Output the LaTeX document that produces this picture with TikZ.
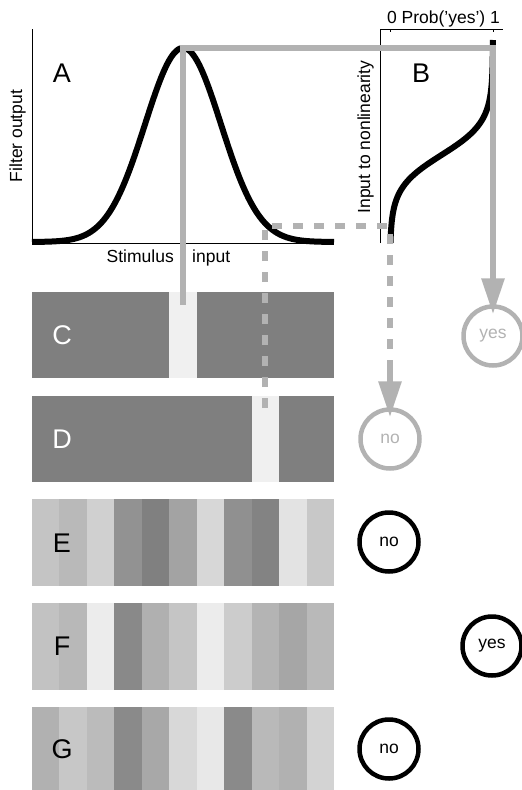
\documentclass[tikz,border=0pt]{standalone}
\usepackage{fontspec}
\setmainfont{Liberation Sans}
\usetikzlibrary{arrows.meta}
\definecolor{gline}{RGB}{178,178,178}
\definecolor{bardark}{RGB}{127,127,127}
\definecolor{barlight}{RGB}{240,240,240}
\begin{document}
\begin{tikzpicture}[x=1pt,y=-1pt,
  axis/.style={line width=1pt, black},
  curve/.style={line width=6pt, black},
  gsolid/.style={line width=6pt, draw=gline},
  gdashed/.style={line width=6.5pt, draw=gline, dash pattern=on 10pt off 11pt},
  tipstyle/.style={-{Triangle[length=36pt,width=22pt]}},
  resp/.style={circle, draw, line width=4.5pt, minimum size=59pt, inner sep=0pt, font=\fontsize{17.5}{20}\selectfont},
  lab/.style={font=\fontsize{17.5}{20}\selectfont, inner sep=0pt},
  big/.style={font=\fontsize{27}{30}\selectfont, inner sep=0pt},
]
\useasboundingbox (0,0) rectangle (522,790);

% ---- Panel A axes
\draw[axis] (32,29) -- (32,243) -- (334,243);
% Gaussian filter curve
\draw[curve] plot[domain=32:334, samples=160] (\x, {242 - 194*exp(-0.5*((\x-183)/38)^2)});
\node[big] (A) at (62,73) {A};
\node[lab, rotate=90, anchor=base] (fo) at (22,136) {Filter output};
\node[lab, anchor=base east] (stim) at (174,262) {Stimulus};
\node[lab, anchor=base west] (inp) at (192,262) {input};

% ---- Panel B axes
\draw[axis] (380,243) -- (380,29) -- (503,29);
\draw[axis] (390,29) -- (390,32);
\draw[axis] (493,29) -- (493,32);
\node[lab, anchor=base] (prob) at (443.5,23) {0 Prob(’yes’) 1};
\node[lab, rotate=90, anchor=base] (inl) at (370,137) {Input to nonlinearity};
\node[big] (B) at (421,73) {B};
% sigmoid nonlinearity
\draw[curve] plot[domain=40:243, samples=120] ({390+103/(1+exp(-1.702*(155-\x)/28))}, \x);

% ---- Bars C and D
\fill[bardark] (32,292) rectangle (334,378);
\fill[barlight] (169,292) rectangle (197,378);
\fill[bardark] (32,396) rectangle (334,482);
\fill[barlight] (252,396) rectangle (279,482);
\node[big, text=white] (C) at (62,335) {C};
\node[big, text=white] (D) at (62,439) {D};

% ---- Striped bars E, F, G
\foreach \yy/\vals in {499/{196,185,208,146,128,163,215,144,131,227,200},
                       603/{194,184,236,137,176,197,236,204,180,166,185},
                       707/{177,199,187,138,168,216,232,138,185,177,211}} {
  \foreach \g [count=\i from 0] in \vals {
    \definecolor{stripe}{RGB}{\g,\g,\g}
    \fill[stripe] ({32+\i*27.4545},\yy) rectangle ({min(334,32+(\i+1)*27.4545+0.4)},{\yy+87});
  }
}
\node[big] (E) at (62,543) {E};
\node[big] (F) at (62,646) {F};
\node[big] (G) at (62,749) {G};

% ---- Response circles
\node[resp, draw=gline, text=gline] (yesg) at (493,336) {yes};
\node[resp, draw=gline, text=gline] (nog) at (390,439) {no};
\node[resp] (noE) at (389,542) {no};
\node[resp] (yesF) at (492,646) {yes};
\node[resp] (noG) at (389,749) {no};

% ---- Grey connectors
\coordinate (cbot) at (183,305);
\coordinate (peak) at (183,48);
\coordinate (corner) at (493,48);
\draw[gsolid, tipstyle, shorten >=-10pt] (cbot) -- (peak) -- (corner) -- (yesg.north);

\coordinate (d1) at (265,408);
\coordinate (d2) at (265,226);
\coordinate (d3) at (390,226);
\coordinate (d4) at (390,368);
\draw[gdashed] (d1) -- (d2) -- (d3) -- (d4);
\draw[gsolid, tipstyle, shorten >=-10pt] (d4) -- (nog.north);
\end{tikzpicture}
\end{document}
